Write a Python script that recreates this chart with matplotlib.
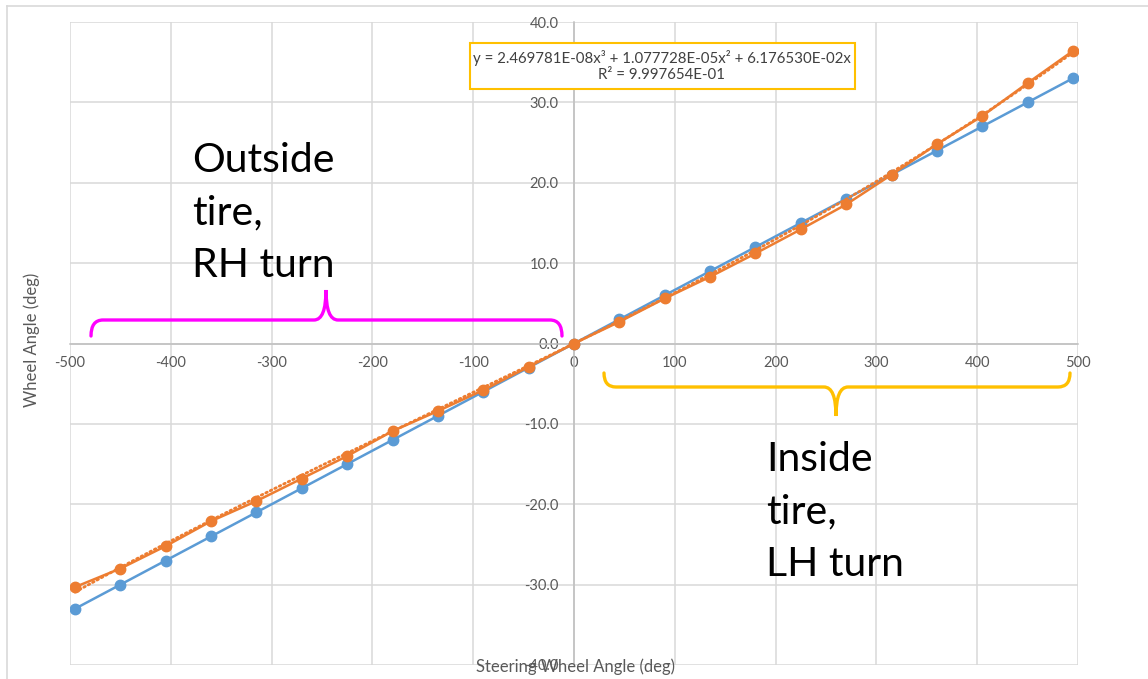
import matplotlib
matplotlib.use("Agg")
import matplotlib.pyplot as plt
import numpy as np
from matplotlib.path import Path
from matplotlib.patches import PathPatch, Rectangle
from matplotlib.lines import Line2D

plt.rcParams['font.family'] = ['Lato', 'DejaVu Sans']
plt.rcParams['axes.unicode_minus'] = False

# ---- data ----
steering = [-495, -450, -405, -360, -315, -270, -225, -180, -135, -90, -45, 0,
            45, 90, 135, 180, 225, 270, 315, 360, 405, 450, 495]
wheel_blue = [-33.0, -30.0, -27.0, -24.0, -21.0, -18.0, -15.0, -12.0, -9.0, -6.0, -3.0, 0.0,
              3.0, 6.0, 9.0, 12.0, 15.0, 18.0, 21.0, 24.0, 27.0, 30.0, 33.0]
wheel_orange = [-30.3, -28.0, -25.2, -22.1, -19.6, -16.8, -14.0, -10.9, -8.4, -5.8, -2.9, 0.0,
                2.7, 5.6, 8.3, 11.2, 14.2, 17.3, 21.0, 24.8, 28.3, 32.4, 36.4]
trend_coef = [2.469781E-08, 1.077728E-05, 6.176530E-02, 0.0]  # x^3, x^2, x, const
eq_text = "y = 2.469781E-08x³ + 1.077728E-05x² + 6.176530E-02x\nR² = 9.997654E-01"
xticks = [-500, -400, -300, -200, -100, 0, 100, 200, 300, 400, 500]
yticks = [-40, -30, -20, -10, 0, 10, 20, 30, 40]

W, H = 1148, 679
fig = plt.figure(figsize=(W / 100, H / 100), dpi=100)
ax = fig.add_axes([70 / W, 1 - 665 / H, (1078 - 70) / W, (665 - 22) / H])

GRID = '#D9D9D9'
TXT = '#595959'
BLUE = '#5B9BD5'
ORANGE = '#ED7D31'

ax.set_xlim(-500, 500)
ax.set_ylim(-40, 40)
ax.set_xticks(xticks)
ax.set_yticks(yticks)
ax.set_xticklabels([str(v) for v in xticks])
ax.set_yticklabels(["%.1f" % v for v in yticks])
ax.grid(True, color=GRID, linewidth=1.1)
ax.set_axisbelow(True)
for s in ['top', 'right']:
    ax.spines[s].set_visible(False)
ax.spines['left'].set_position(('data', 0))
ax.spines['bottom'].set_position(('data', 0))
ax.spines['left'].set_color('#BFBFBF')
ax.spines['bottom'].set_color('#BFBFBF')
ax.spines['left'].set_linewidth(1.1)
ax.spines['bottom'].set_linewidth(1.1)
ax.tick_params(axis='both', length=0, labelsize=10.5, labelcolor=TXT)
ax.tick_params(axis='x', pad=9)
ax.tick_params(axis='y', pad=11)

ax.plot(steering, wheel_blue, color=BLUE, linewidth=1.8, marker='o', markersize=7.5, zorder=3)
ax.plot(steering, wheel_orange, color=ORANGE, linewidth=1.8, marker='o', markersize=7.5, zorder=4)
xt = np.linspace(min(steering), max(steering), 300)
ax.plot(xt, np.polyval(trend_coef, xt), color=ORANGE, linewidth=2.0, linestyle=(0, (0.6, 1.2)),
        dash_capstyle='round', zorder=5)

# equation box
fig.patches.append(Rectangle((470 / W, 1 - 89 / H), (855 - 470) / W, (89 - 43) / H,
                             transform=fig.transFigure, fill=True, facecolor='white',
                             edgecolor='#FFC000', linewidth=1.5, zorder=10))
fig.text(662 / W, 1 - 66 / H, eq_text, ha='center', va='center', fontsize=10.8,
         color='#404040', linespacing=1.2, zorder=11)

# axis titles
fig.text(32 / W, 1 - 340 / H, 'Wheel Angle (deg)', rotation=90, ha='center', va='center',
         fontsize=12, color=TXT)
fig.text(575 / W, 1 - 667 / H, 'Steering Wheel Angle (deg)', ha='center', va='center',
         fontsize=12, color=TXT)

# big annotations
fig.text(192 / W, 1 - 213 / H, 'Outside\ntire,\nRH turn', ha='left', va='center',
         fontsize=29.5, color='black', linespacing=1.52)
fig.text(766 / W, 1 - 512 / H, 'Inside\ntire,\nLH turn', ha='left', va='center',
         fontsize=29.5, color='black', linespacing=1.52)


def brace(x0, x1, xt, yend, yh, ytip, r, color):
    def p(x, y):
        return (x / W, 1 - y / H)
    verts = [p(x0, yend), p(x0, yh), p(x0 + r, yh),
             p(xt - r, yh), p(xt, yh), p(xt, ytip),
             p(xt, yh), p(xt + r, yh),
             p(x1 - r, yh), p(x1, yh), p(x1, yend)]
    codes = [Path.MOVETO, Path.CURVE3, Path.CURVE3,
             Path.LINETO, Path.CURVE3, Path.CURVE3,
             Path.CURVE3, Path.CURVE3,
             Path.LINETO, Path.CURVE3, Path.CURVE3]
    fig.patches.append(PathPatch(Path(verts, codes), transform=fig.transFigure, fill=False,
                                 edgecolor=color, linewidth=2.4, capstyle='round', zorder=8))


brace(91, 562, 326, 336, 320, 290, 12, '#FF00FF')
brace(604, 1070, 836, 373, 387, 416, 12, '#FFC000')

# outer chart border (left/top visible)
fig.lines.append(Line2D([7 / W, 7 / W], [0, 1 - 6 / H], transform=fig.transFigure,
                        color=GRID, linewidth=1.2))
fig.lines.append(Line2D([7 / W, 1], [1 - 6 / H, 1 - 6 / H], transform=fig.transFigure,
                        color=GRID, linewidth=1.2))

fig.savefig('out.png', dpi=100, facecolor='white')
